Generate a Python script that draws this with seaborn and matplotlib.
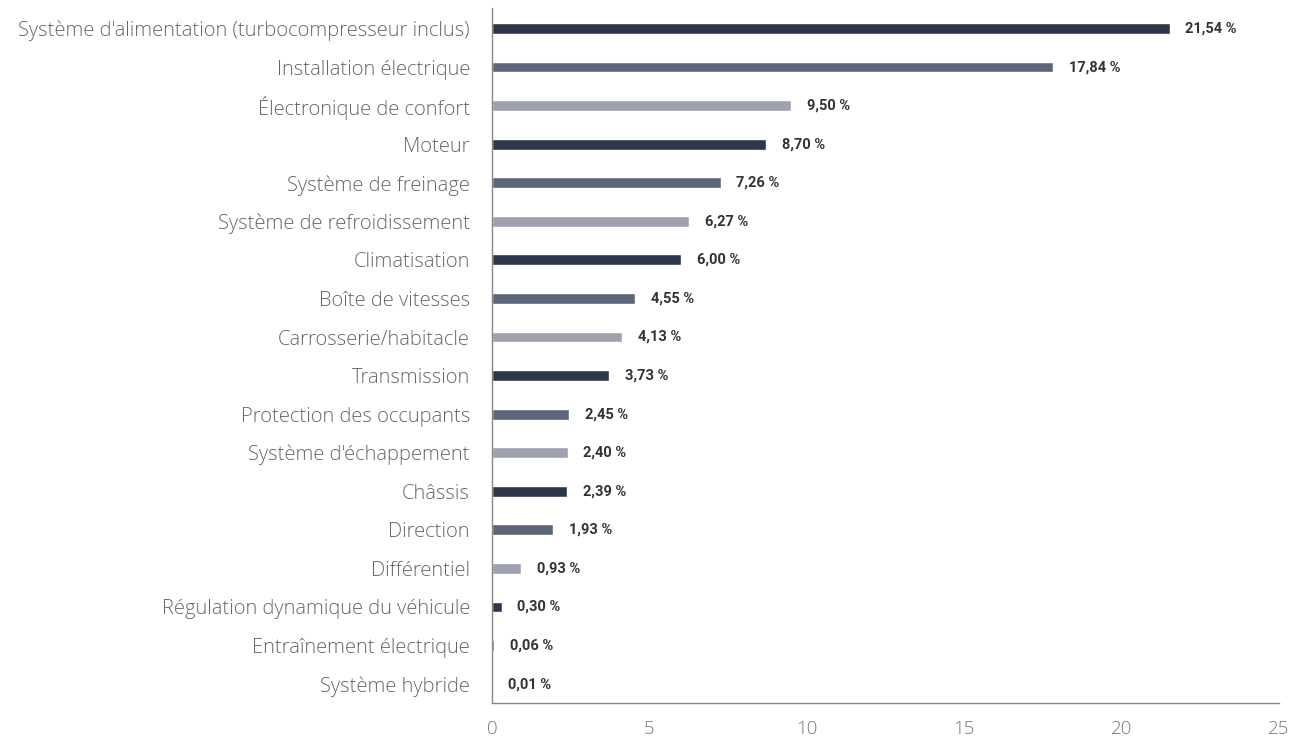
import matplotlib
matplotlib.use("Agg")
import matplotlib.pyplot as plt
import seaborn as sns
import pandas as pd

# data
categories = [
    "Système d'alimentation (turbocompresseur inclus)",
    "Installation électrique",
    "Électronique de confort",
    "Moteur",
    "Système de freinage",
    "Système de refroidissement",
    "Climatisation",
    "Boîte de vitesses",
    "Carrosserie/habitacle",
    "Transmission",
    "Protection des occupants",
    "Système d'échappement",
    "Châssis",
    "Direction",
    "Différentiel",
    "Régulation dynamique du véhicule",
    "Entraînement électrique",
    "Système hybride",
]
values = [21.54, 17.84, 9.50, 8.70, 7.26, 6.27, 6.00, 4.55, 4.13, 3.73,
          2.45, 2.40, 2.39, 1.93, 0.93, 0.30, 0.06, 0.01]
value_labels = ["21,54 %", "17,84 %", "9,50 %", "8,70 %", "7,26 %", "6,27 %",
                "6,00 %", "4,55 %", "4,13 %", "3,73 %", "2,45 %", "2,40 %",
                "2,39 %", "1,93 %", "0,93 %", "0,30 %", "0,06 %", "0,01 %"]
x_ticks = [0, 5, 10, 15, 20, 25]

cycle = ["#2c3749", "#5b667a", "#9fa1b0"]
bar_colors = [cycle[i % 3] for i in range(len(categories))]

df = pd.DataFrame({"cat": categories, "val": values})

sns.set_style("white")
plt.rcParams["font.family"] = ["Open Sans", "DejaVu Sans"]

fig = plt.figure(figsize=(13.02, 7.42), dpi=100)
ax = fig.add_axes([0.378, 0.0526, 0.604, 0.936])

sns.barplot(data=df, y="cat", x="val", hue="cat", palette=bar_colors,
            legend=False, width=0.28, saturation=1, ax=ax, orient="h")

for i, (v, lab) in enumerate(zip(values, value_labels)):
    ax.text(v + 0.5, i, lab, va="center", ha="left", fontsize=10.5,
            fontweight="bold", color="#333333",
            family=["Roboto", "DejaVu Sans"])

ax.set_xlim(0, 25)
ax.set_ylim(len(categories) - 0.51, -0.52)
ax.set_xticks(x_ticks)
ax.set_xticklabels([str(t) for t in x_ticks], fontsize=13.5, color="#777777",
                   fontweight="light")
ax.set_yticklabels(categories, fontsize=14.5, color="#666666", fontweight="light")
ax.set_xlabel("")
ax.set_ylabel("")
ax.tick_params(axis="x", direction="in", length=14, width=1, color="#888888",
               pad=12)
ax.tick_params(axis="y", length=0, pad=16)

for s in ["top", "right"]:
    ax.spines[s].set_visible(False)
for s in ["left", "bottom"]:
    ax.spines[s].set_color("#888888")
    ax.spines[s].set_linewidth(1)

fig.savefig("out.png", dpi=100, facecolor="white")
